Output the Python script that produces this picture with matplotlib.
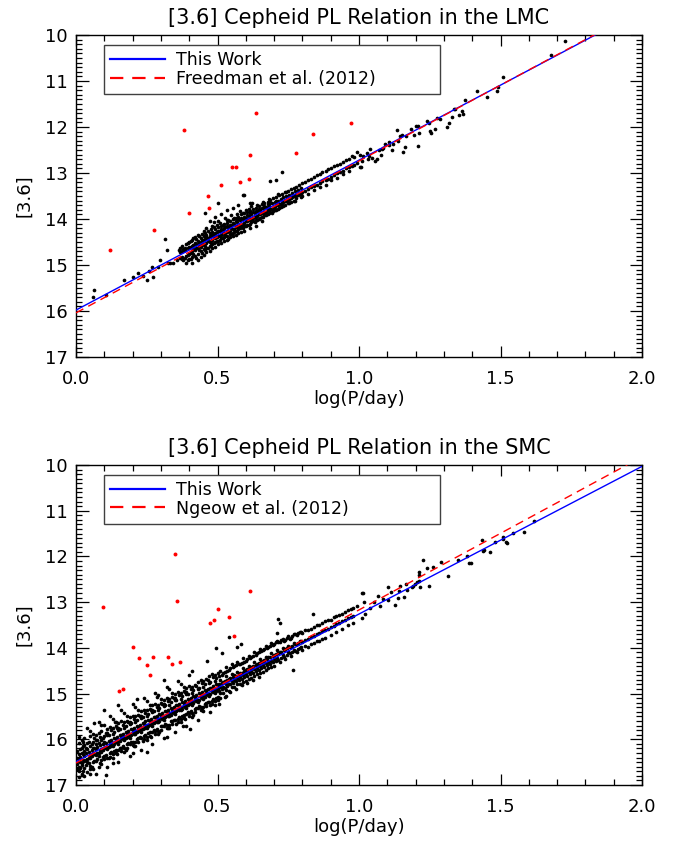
import numpy as np
import matplotlib
matplotlib.use("Agg")
import matplotlib.pyplot as plt
from matplotlib.ticker import MultipleLocator

# fitted PL relations: [zero point at logP=0, slope]
lmc_fit = [15.98, -3.26]
lmc_ref_fit = [16.04, -3.30]
smc_fit = [16.49, -3.23]
smc_ref_fit = [16.52, -3.35]

lmc_labels = ["This Work", "Freedman et al. (2012)"]
smc_labels = ["This Work", "Ngeow et al. (2012)"]

lmc_columns = [
    (0.369, [14.62, 14.85, 14.72]), (0.379, [14.90, 14.66]),
    (0.390, [14.55, 14.80, 14.95]), (0.400, [14.60, 14.75, 14.88, 14.50]),
    (0.410, [14.45, 14.70, 14.82, 14.58, 14.95]), (0.420, [14.52, 14.68, 14.80, 14.40]),
    (0.431, [14.48, 14.62, 14.75, 14.90, 14.35]), (0.441, [14.42, 14.60, 14.70, 14.50, 14.82]),
    (0.451, [14.38, 14.55, 14.66, 14.45, 14.78, 14.25]), (0.461, [14.35, 14.52, 14.62, 14.40, 14.72, 14.20]),
    (0.472, [14.30, 14.50, 14.58, 14.38, 14.70, 14.05]), (0.482, [14.28, 14.45, 14.55, 14.35, 14.62, 14.15]),
    (0.492, [14.22, 14.42, 14.50, 14.30, 14.60, 13.95]), (0.502, [14.18, 14.38, 14.48, 14.25, 14.55, 14.05]),
    (0.513, [14.15, 14.35, 14.42, 14.22, 14.52, 13.90]), (0.523, [14.10, 14.32, 14.40, 14.20, 14.48]),
    (0.533, [14.08, 14.28, 14.36, 14.15, 14.45, 13.80]), (0.543, [14.05, 14.25, 14.32, 14.12, 14.40]),
    (0.554, [14.00, 14.22, 14.30, 14.08, 14.38, 13.75]), (0.564, [13.98, 14.18, 14.25, 14.05, 14.35]),
    (0.574, [13.95, 14.15, 14.22, 14.00, 14.30, 13.70]), (0.584, [13.90, 14.12, 14.18, 13.98, 14.28]),
    (0.595, [13.88, 14.08, 14.15, 13.95, 14.25, 13.48]), (0.605, [13.85, 14.05, 14.12, 13.92]),
    (0.615, [13.82, 14.00, 14.10, 13.88, 14.20, 13.65]), (0.625, [13.78, 13.98, 14.05, 13.85]),
    (0.636, [13.75, 13.95, 14.02, 13.82, 14.15]), (0.646, [13.72, 13.90, 14.00, 13.78]),
    (0.656, [13.68, 13.88, 13.95, 13.75, 14.05]), (0.666, [13.65, 13.85, 13.92, 13.72]),
    (0.677, [13.62, 13.80, 13.90, 13.68]), (0.687, [13.58, 13.78, 13.85, 13.65, 13.17]),
    (0.697, [13.55, 13.75, 13.82]), (0.707, [13.52, 13.70, 13.80, 13.60]),
    (0.718, [13.48, 13.68, 13.75]), (0.728, [13.45, 13.65, 13.72, 12.97]),
    (0.738, [13.42, 13.60, 13.70]), (0.748, [13.40, 13.58, 13.65]),
    (0.759, [13.35, 13.55, 13.62]), (0.769, [13.32, 13.50, 13.60]),
    (0.779, [13.30, 13.48, 13.55]), (0.789, [13.25, 13.45]),
    (0.800, [13.22, 13.42, 13.50]), (0.810, [13.20, 13.40]),
    (0.820, [13.15, 13.35, 13.45]), (0.830, [13.12, 13.30]),
    (0.841, [13.08, 13.28, 13.38]), (0.851, [13.05, 13.25]),
    (0.861, [13.02, 13.22, 13.30]), (0.871, [12.98, 13.18]),
    (0.882, [12.95, 13.15, 13.25]), (0.892, [12.92, 13.12]),
    (0.902, [12.90, 13.08, 13.15]), (0.912, [12.85, 13.05]),
    (0.923, [12.82, 13.00, 13.10]), (0.933, [12.80, 12.98]),
    (0.943, [12.75, 12.95, 13.02]), (0.953, [12.72, 12.90]),
    (0.964, [12.70, 12.88, 12.95]), (0.974, [12.62, 12.85]),
    (0.984, [12.65, 12.82]), (0.994, [12.55, 12.78]),
    (1.005, [12.60, 12.86]),
]

# LMC dense part, stars lying between the columns above
lmc_columns_mid = [
    (0.374, [14.70, 14.82, 14.58]), (0.385, [14.68, 14.84, 14.62]),
    (0.395, [14.64, 14.78, 14.52, 14.90]), (0.405, [14.61, 14.74, 14.86, 14.48]),
    (0.415, [14.56, 14.66, 14.77, 14.42]), (0.425, [14.55, 14.64, 14.84, 14.44]),
    (0.436, [14.52, 14.58, 14.68, 14.38]), (0.446, [14.46, 14.57, 14.74, 14.32]),
    (0.456, [14.44, 14.59, 14.68, 14.30]), (0.467, [14.41, 14.47, 14.64, 14.27]),
    (0.477, [14.36, 14.48, 14.56, 14.22]), (0.487, [14.33, 14.40, 14.52, 14.18]),
    (0.497, [14.28, 14.40, 14.47, 14.12]), (0.508, [14.27, 14.37, 14.46, 14.08]),
    (0.518, [14.24, 14.30, 14.41, 14.12]), (0.528, [14.18, 14.31, 14.38, 13.98]),
    (0.538, [14.17, 14.27, 14.44, 14.02]), (0.549, [14.14, 14.20, 14.33, 13.92]),
    (0.559, [14.10, 14.22, 14.28, 13.97]), (0.569, [14.07, 14.15, 14.26, 13.90]),
    (0.579, [14.03, 14.14, 14.20, 13.82]), (0.590, [14.00, 14.10, 14.19, 13.86]),
    (0.600, [13.97, 14.04, 14.16, 13.80]), (0.610, [13.93, 14.03, 14.14, 13.78]),
    (0.620, [13.89, 13.99, 14.07, 13.72]), (0.631, [13.87, 13.96, 14.06]),
    (0.641, [13.83, 13.93, 14.03, 13.70]), (0.651, [13.80, 13.90, 13.97]),
    (0.661, [13.77, 13.86, 13.95, 13.62]), (0.672, [13.73, 13.84, 13.92]),
    (0.682, [13.71, 13.79, 13.88, 13.56]), (0.692, [13.66, 13.78, 13.86]),
    (0.702, [13.63, 13.73, 13.80]), (0.713, [13.60, 13.70, 13.78, 13.45]),
    (0.723, [13.56, 13.67, 13.74]), (0.733, [13.53, 13.63, 13.71]),
    (0.743, [13.50, 13.61, 13.42]), (0.754, [13.47, 13.57, 13.66]),
    (0.764, [13.44, 13.53]), (0.774, [13.40, 13.51, 13.60]),
    (0.784, [13.37, 13.47]), (0.795, [13.33, 13.45, 13.52]),
]

# LMC sparse stars (short and long periods, bright scatter)
lmc_logp = [0.061, 0.064, 0.106, 0.171, 0.200, 0.218, 0.236, 0.252, 0.257, 0.269,
            0.271, 0.289, 0.297, 0.316, 0.320, 0.324, 0.332, 0.344, 0.356, 0.365,
            0.373, 0.385, 0.456, 0.486, 0.502, 0.533, 0.591, 0.621, 0.705,
            1.007, 1.010, 1.015, 1.027, 1.031, 1.035, 1.039, 1.046, 1.055, 1.065,
            1.070, 1.077, 1.081, 1.086, 1.093, 1.105, 1.106, 1.116, 1.120, 1.139,
            1.134, 1.145, 1.151, 1.166, 1.155, 1.164, 1.184, 1.208, 1.195, 1.201,
            1.211, 1.208, 1.270, 1.255, 1.251, 1.246, 1.240, 1.286, 1.275, 1.312,
            1.318, 1.329, 1.340, 1.335, 1.352, 1.366, 1.365, 1.376, 1.452, 1.416,
            1.487, 1.492, 1.508, 1.678, 1.728]
lmc_mag = [15.69, 15.54, 15.65, 15.33, 15.25, 15.17, 15.24, 15.33, 15.12, 15.05,
           15.27, 15.05, 14.89, 14.44, 14.67, 14.96, 14.96, 14.96, 14.89, 14.67,
           14.86, 14.67, 13.86, 14.06, 13.66, 14.02, 13.48, 13.65, 13.15,
           12.86, 12.73, 12.63, 12.56, 12.70, 12.64, 12.48, 12.68, 12.73, 12.70,
           12.51, 12.61, 12.47, 12.45, 12.36, 12.40, 12.32, 12.50, 12.36, 12.31,
           12.06, 12.20, 12.18, 12.20, 12.55, 12.43, 12.04, 12.42, 12.18, 11.98,
           12.12, 11.98, 12.05, 12.12, 12.09, 11.92, 11.87, 11.82, 11.80, 12.00,
           11.92, 11.78, 11.61, 11.61, 11.73, 11.72, 11.66, 11.41, 11.35, 11.22,
           11.21, 11.14, 10.92, 10.43, 10.13]

# LMC rejected stars (red)
lmc_red_logp = [0.120, 0.276, 0.381, 0.400, 0.466, 0.471, 0.513, 0.553, 0.567,
                0.580, 0.613, 0.616, 0.636, 0.779, 0.836, 0.972, 1.045]
lmc_red_mag = [14.67, 14.24, 12.07, 13.86, 13.50, 13.75, 13.26, 12.88, 12.87,
               13.20, 13.14, 12.60, 11.70, 12.56, 12.16, 11.91, 10.98]

# SMC dense part
smc_columns = [
    (0.01, [16.08, 16.33, 16.41, 16.60, 16.70, 16.82, 15.95]),
    (0.02, [16.19, 16.30, 16.52, 16.57, 16.76, 16.02]),
    (0.03, [15.97, 16.25, 16.36, 16.48, 16.62, 16.80, 16.13]),
    (0.04, [16.09, 16.21, 16.44, 16.50, 16.72, 15.76]),
    (0.05, [15.93, 16.15, 16.36, 16.40, 16.58, 16.66, 15.82]),
    (0.06, [16.06, 16.18, 16.31, 16.50, 16.64, 15.88]),
    (0.07, [15.90, 16.11, 16.22, 16.35, 16.47, 16.75, 16.01]),
    (0.08, [15.87, 16.09, 16.30, 16.37, 16.60, 15.62]),
    (0.09, [15.81, 16.02, 16.21, 16.27, 16.45, 16.54, 15.69]),
    (0.10, [15.93, 16.05, 16.18, 16.36, 16.44, 15.68]),
    (0.11, [15.77, 15.91, 16.16, 16.22, 16.42, 16.61, 15.87]),
    (0.12, [15.74, 16.04, 16.11, 16.31, 16.39, 15.49]),
    (0.13, [15.76, 15.88, 16.09, 16.14, 16.33, 16.41, 15.55]),
    (0.14, [15.72, 15.99, 16.06, 16.24, 16.30, 15.63]),
    (0.15, [15.65, 15.80, 16.04, 16.10, 16.23, 16.49, 15.75]),
    (0.16, [15.61, 15.90, 15.98, 16.18, 16.26, 15.36]),
    (0.17, [15.63, 15.76, 15.95, 16.01, 16.20, 16.28, 15.43]),
    (0.18, [15.59, 15.86, 15.93, 16.11, 16.18, 15.50]),
    (0.19, [15.52, 15.67, 15.91, 15.97, 16.10, 16.36, 15.62]),
    (0.20, [15.48, 15.77, 15.85, 16.06, 16.13, 15.23]),
    (0.21, [15.50, 15.63, 15.82, 15.88, 16.07, 16.15, 15.30]),
    (0.22, [15.46, 15.73, 15.80, 15.98, 16.05, 15.37]),
    (0.23, [15.39, 15.54, 15.78, 15.84, 15.97, 16.23, 15.49]),
    (0.24, [15.35, 15.64, 15.72, 15.93, 16.00, 15.10]),
    (0.25, [15.37, 15.50, 15.69, 15.75, 15.94, 16.02, 15.17]),
    (0.26, [15.33, 15.60, 15.67, 15.85, 15.92, 15.24]),
    (0.27, [15.26, 15.41, 15.65, 15.71, 15.84, 16.10, 15.36]),
    (0.28, [15.23, 15.52, 15.60, 15.81, 15.88, 14.98]),
    (0.29, [15.24, 15.37, 15.56, 15.62, 15.81, 15.89, 15.04]),
    (0.30, [15.20, 15.47, 15.54, 15.72, 15.79, 15.11]),
    (0.31, [15.13, 15.28, 15.52, 15.58, 15.71, 15.97, 15.23]),
    (0.32, [15.10, 15.39, 15.47, 15.68, 15.75, 14.85]),
    (0.33, [15.11, 15.24, 15.43, 15.49, 15.68, 15.76, 14.91]),
    (0.34, [15.07, 15.34, 15.41, 15.59, 15.66, 14.98]),
    (0.35, [15.00, 15.15, 15.39, 15.45, 15.58, 15.84, 15.10]),
    (0.36, [14.97, 15.26, 15.34, 15.55, 15.62, 14.72]),
    (0.37, [14.98, 15.11, 15.30, 15.36, 15.55, 15.63, 14.78]),
    (0.38, [14.94, 15.21, 15.28, 15.46, 15.53, 14.85]),
    (0.39, [14.87, 15.02, 15.26, 15.32, 15.45, 15.71, 14.97]),
    (0.40, [14.84, 15.13, 15.21, 15.42, 15.49, 14.59]),
    (0.41, [14.86, 14.99, 15.18, 15.24, 15.43, 15.51]),
    (0.42, [14.81, 15.08, 15.15, 15.33, 15.40]),
    (0.43, [14.74, 14.89, 15.13, 15.19, 15.32, 15.58]),
    (0.44, [14.71, 15.00, 15.08, 15.29, 15.36]),
    (0.45, [14.73, 14.86, 15.05, 15.11, 15.30, 15.38]),
    (0.46, [14.68, 14.95, 15.02, 15.20, 15.27]),
    (0.47, [14.61, 14.76, 15.00, 15.06, 15.19]),
    (0.48, [14.58, 14.87, 14.95, 15.16, 15.23]),
    (0.49, [14.60, 14.73, 14.92, 14.98, 15.17, 15.25]),
    (0.50, [14.55, 14.82, 14.89, 15.07, 15.14]),
    (0.51, [14.50, 14.70, 14.86, 14.98, 15.10]),
    (0.52, [14.55, 14.74, 14.85, 14.98]),
    (0.53, [14.42, 14.62, 14.80, 14.92, 15.05]),
    (0.54, [14.48, 14.68, 14.79, 14.95]),
    (0.55, [14.35, 14.58, 14.72, 14.86]),
    (0.56, [14.40, 14.60, 14.70, 14.85]),
    (0.57, [14.30, 14.52, 14.66, 14.80]),
    (0.58, [14.35, 14.55, 14.64, 14.78]),
    (0.59, [14.22, 14.45, 14.60, 14.75]),
    (0.60, [14.28, 14.48, 14.57, 14.72]),
    (0.61, [14.18, 14.40, 14.53, 14.68]),
    (0.62, [14.20, 14.42, 14.50, 14.65]),
    (0.63, [14.10, 14.32, 14.47, 14.62]),
    (0.64, [14.12, 14.35, 14.44, 14.58]),
    (0.65, [14.02, 14.25, 14.40, 14.55]),
    (0.66, [14.05, 14.28, 14.38, 14.52]),
    (0.67, [13.96, 14.20, 14.34, 14.48]),
    (0.68, [13.98, 14.20, 14.31, 14.45]),
    (0.69, [13.90, 14.12, 14.28, 14.42]),
    (0.70, [13.92, 14.15, 14.25, 14.40]),
    (0.71, [13.85, 14.05, 14.22]), (0.72, [13.88, 14.08, 14.30]),
    (0.73, [13.80, 14.00, 14.15]), (0.74, [13.82, 14.02, 14.25]),
    (0.75, [13.75, 13.95, 14.10]), (0.76, [13.78, 13.98, 14.18]),
    (0.77, [13.70, 13.90, 14.05]), (0.78, [13.72, 13.92, 14.10]),
    (0.79, [13.65, 13.85, 14.00]), (0.80, [13.68, 13.88, 14.05]),
    (0.82, [13.60, 13.80, 13.98]), (0.84, [13.55, 13.75, 13.90]),
    (0.86, [13.50, 13.68, 13.85]), (0.88, [13.42, 13.62, 13.78]),
    (0.90, [13.38, 13.55, 13.72]), (0.92, [13.30, 13.48, 13.65]),
    (0.94, [13.25, 13.42, 13.58]), (0.96, [13.18, 13.35, 13.50]),
    (0.98, [13.12, 13.30, 13.45]),
]

# SMC dense part, stars lying between the columns above
smc_columns_mid = [
    (0.005, [16.25, 16.40, 16.55, 16.66]), (0.015, [16.22, 16.38, 16.50, 16.63]),
    (0.025, [16.14, 16.33, 16.46, 16.69]), (0.035, [16.18, 16.29, 16.45, 16.57]),
    (0.045, [16.06, 16.27, 16.40, 16.52]), (0.055, [16.10, 16.24, 16.37, 16.61]),
    (0.065, [15.98, 16.20, 16.33, 16.47]), (0.075, [16.02, 16.17, 16.29, 16.44]),
    (0.085, [15.95, 16.13, 16.26, 16.51]), (0.095, [15.97, 16.10, 16.24, 16.38]),
    (0.105, [15.87, 16.08, 16.20, 16.34]), (0.115, [15.90, 16.03, 16.17, 16.42]),
    (0.125, [15.80, 16.01, 16.14, 16.28]), (0.135, [15.84, 15.97, 16.10, 16.26]),
    (0.145, [15.75, 15.94, 16.07, 16.33]), (0.155, [15.78, 15.90, 16.04, 16.19]),
    (0.165, [15.68, 15.88, 16.00, 16.15]), (0.175, [15.71, 15.84, 15.97, 16.24]),
    (0.185, [15.62, 15.81, 15.94, 16.09]), (0.195, [15.65, 15.77, 15.91, 16.06]),
    (0.205, [15.55, 15.75, 15.88, 16.14]), (0.215, [15.58, 15.71, 15.85, 16.00]),
    (0.225, [15.49, 15.68, 15.81, 15.96]), (0.235, [15.52, 15.64, 15.78, 16.04]),
    (0.245, [15.42, 15.61, 15.75, 15.90]), (0.255, [15.45, 15.58, 15.72, 15.87]),
    (0.265, [15.35, 15.55, 15.68, 15.95]), (0.275, [15.39, 15.51, 15.65, 15.80]),
    (0.285, [15.29, 15.48, 15.62, 15.77]), (0.295, [15.32, 15.45, 15.59, 15.85]),
    (0.305, [15.22, 15.42, 15.55, 15.70]), (0.315, [15.26, 15.38, 15.52, 15.67]),
    (0.325, [15.16, 15.35, 15.49, 15.75]), (0.335, [15.19, 15.32, 15.46, 15.61]),
    (0.345, [15.09, 15.29, 15.43, 15.58]), (0.355, [15.13, 15.25, 15.39, 15.66]),
    (0.365, [15.03, 15.22, 15.36, 15.51]), (0.375, [15.06, 15.19, 15.33, 15.48]),
    (0.385, [14.96, 15.16, 15.30, 15.56]), (0.395, [15.00, 15.12, 15.26, 15.41]),
    (0.405, [14.90, 15.09, 15.23, 15.38]), (0.415, [14.93, 15.06, 15.20, 15.46]),
    (0.425, [14.83, 15.03, 15.17, 15.32]), (0.435, [14.87, 14.99, 15.13, 15.28]),
    (0.445, [14.77, 14.96, 15.10, 15.36]), (0.455, [14.80, 14.93, 15.07, 15.22]),
    (0.465, [14.70, 14.90, 15.04, 15.19]), (0.475, [14.74, 14.87, 15.01, 15.26]),
    (0.485, [14.64, 14.83, 14.97, 15.12]), (0.495, [14.67, 14.80, 14.94, 15.09]),
    (0.505, [14.62, 14.80, 14.95, 15.22]), (0.515, [14.60, 14.77, 14.90]),
    (0.525, [14.52, 14.73, 14.88, 15.08]), (0.535, [14.50, 14.70, 14.83]),
    (0.545, [14.45, 14.66, 14.80, 14.97]), (0.555, [14.42, 14.64, 14.77]),
    (0.565, [14.38, 14.61, 14.73, 14.90]), (0.575, [14.36, 14.57, 14.70]),
    (0.585, [14.33, 14.54, 14.68, 14.82]), (0.595, [14.30, 14.50, 14.64]),
    (0.605, [14.25, 14.47, 14.61, 14.76]), (0.615, [14.22, 14.44, 14.57]),
    (0.625, [14.17, 14.40, 14.54, 14.70]), (0.635, [14.15, 14.37, 14.51]),
    (0.645, [14.10, 14.34, 14.48, 14.63]), (0.655, [14.06, 14.30, 14.44]),
    (0.665, [14.02, 14.27, 14.41]), (0.675, [14.00, 14.24, 14.38]),
    (0.685, [13.95, 14.21, 14.35]), (0.695, [13.93, 14.18, 14.32]),
    (0.705, [13.88, 14.14, 14.28]), (0.715, [13.87, 14.11, 14.26]),
    (0.725, [13.83, 14.08, 14.22]), (0.735, [13.86, 14.05, 14.19]),
    (0.745, [13.78, 14.01, 14.15]), (0.755, [13.80, 13.98, 14.12]),
    (0.765, [13.74, 13.95, 14.08]), (0.775, [13.70, 13.92, 14.06]),
    (0.785, [13.68, 13.89, 14.02]), (0.795, [13.66, 13.86, 13.99]),
    (0.81, [13.62, 13.82, 13.95]), (0.83, [13.58, 13.76, 13.92]),
    (0.85, [13.50, 13.70, 13.85]), (0.87, [13.45, 13.63, 13.80]),
    (0.89, [13.40, 13.58]), (0.91, [13.33, 13.52]),
    (0.93, [13.28, 13.46]), (0.95, [13.22, 13.40]),
    (0.97, [13.15, 13.33]),
]

# SMC sparse stars
smc_logp = [0.007, 0.020, 0.026, 0.050, 0.064, 0.098, 0.106, 0.132, 0.138, 0.150,
            0.203, 0.214, 0.250, 0.285, 0.312, 0.320, 0.377, 0.403, 0.409, 0.462,
            0.473, 0.494, 0.517, 0.542, 0.568, 0.584, 0.709, 0.715, 0.721, 0.766,
            0.837, 0.994, 1.012,
            1.009, 1.013, 1.019, 1.021, 1.040, 1.054, 1.068, 1.074, 1.086, 1.102,
            1.103, 1.114, 1.126, 1.138, 1.143, 1.145, 1.158, 1.166, 1.169, 1.188,
            1.192, 1.198, 1.204, 1.211, 1.213, 1.213, 1.215, 1.226, 1.240, 1.247,
            1.262, 1.289, 1.314, 1.349, 1.383, 1.390, 1.395, 1.436, 1.438, 1.442,
            1.463, 1.481, 1.509, 1.510, 1.519, 1.524, 1.544, 1.583, 1.618]
smc_mag = [16.64, 16.78, 16.05, 16.75, 15.65, 15.36, 16.78, 16.51, 15.62, 15.24,
           16.31, 15.11, 16.27, 15.07, 14.70, 15.94, 15.71, 15.77, 14.50, 14.29,
           15.40, 14.01, 14.12, 13.76, 13.98, 13.92, 13.67, 13.36, 13.46, 14.49,
           13.26, 13.08, 12.79,
           13.34, 12.81, 13.00, 13.25, 13.12, 12.99, 12.86, 13.08, 12.94, 12.96,
           12.66, 12.78, 13.07, 12.90, 12.75, 12.64, 12.88, 12.61, 12.73, 12.66,
           12.64, 12.60, 12.55, 12.53, 12.33, 12.41, 12.67, 12.08, 12.25, 12.65,
           12.24, 12.12, 12.42, 12.08, 12.00, 12.14, 12.14, 11.64, 11.89, 11.87,
           11.90, 11.69, 11.61, 11.57, 11.68, 11.70, 11.48, 11.46, 11.23]

# SMC rejected stars (red)
smc_red_logp = [0.094, 0.152, 0.166, 0.203, 0.221, 0.252, 0.260, 0.272, 0.325,
                0.339, 0.351, 0.357, 0.366, 0.473, 0.488, 0.502, 0.541, 0.560, 0.614]
smc_red_mag = [13.10, 14.94, 14.89, 13.98, 14.22, 14.38, 14.59, 14.19, 14.21,
               14.36, 11.95, 12.98, 14.30, 13.46, 13.38, 13.14, 13.33, 13.73, 12.76]


def expand(columns, logp, mag):
    xs = [c[0] for c in columns for m in c[1]] + list(logp)
    ys = [m for c in columns for m in c[1]] + list(mag)
    return xs, ys


def panel(ax, title, columns, logp, mag, red_logp, red_mag, fit, ref_fit, labels):
    xs, ys = expand(columns, logp, mag)
    ax.scatter(xs, ys, s=7, c="black", lw=0, zorder=2)
    ax.scatter(red_logp, red_mag, s=8, c="red", lw=0, zorder=2)
    xx = np.linspace(0, 2, 50)
    ax.plot(xx, fit[0] + fit[1] * xx, color="blue", lw=1.0, label=labels[0], zorder=3)
    ax.plot(xx, ref_fit[0] + ref_fit[1] * xx, color="red", lw=1.0,
            dashes=(6, 4), label=labels[1], zorder=3)
    ax.set_xlim(0, 2)
    ax.set_ylim(17, 10)
    ax.xaxis.set_major_locator(MultipleLocator(0.5))
    ax.xaxis.set_minor_locator(MultipleLocator(0.1))
    ax.yaxis.set_major_locator(MultipleLocator(1))
    ax.yaxis.set_minor_locator(MultipleLocator(0.1))
    ax.xaxis.set_major_formatter(plt.FormatStrFormatter("%.1f"))
    ax.tick_params(which="both", direction="in", top=True, right=True,
                   width=0.9, labelsize=13)
    ax.tick_params(axis="x", which="major", length=8, pad=9)
    ax.tick_params(axis="x", which="minor", length=4)
    ax.tick_params(axis="y", which="major", length=9, pad=6)
    ax.tick_params(axis="y", which="minor", length=4.5)
    for sp in ax.spines.values():
        sp.set_linewidth(1.0)
    ax.set_title(title, fontsize=15, pad=8)
    ax.set_xlabel("log(P/day)", fontsize=13, labelpad=2)
    ax.set_ylabel("[3.6]", fontsize=13, labelpad=8)
    leg = ax.legend(loc="upper left", bbox_to_anchor=(0.049, 0.97, 0.594, 0),
                    mode="expand", borderaxespad=0, fontsize=12.5, frameon=True,
                    fancybox=False, framealpha=1, edgecolor="0.25",
                    handlelength=3.2, handletextpad=0.6, labelspacing=0.05,
                    borderpad=0.35)
    leg.get_frame().set_linewidth(1.0)
    for line in leg.get_lines():
        line.set_linewidth(1.6)


fig = plt.figure(figsize=(6.75, 8.42), dpi=100)
ax1 = fig.add_axes([76 / 675, 1 - 357 / 842, 566 / 675, 322 / 842])
ax2 = fig.add_axes([76 / 675, 1 - 785 / 842, 566 / 675, 320 / 842])

panel(ax1, "[3.6] Cepheid PL Relation in the LMC", lmc_columns + lmc_columns_mid,
      lmc_logp, lmc_mag, lmc_red_logp, lmc_red_mag, lmc_fit, lmc_ref_fit, lmc_labels)
panel(ax2, "[3.6] Cepheid PL Relation in the SMC", smc_columns + smc_columns_mid,
      smc_logp, smc_mag, smc_red_logp, smc_red_mag, smc_fit, smc_ref_fit, smc_labels)

plt.savefig("out.png", dpi=100)
